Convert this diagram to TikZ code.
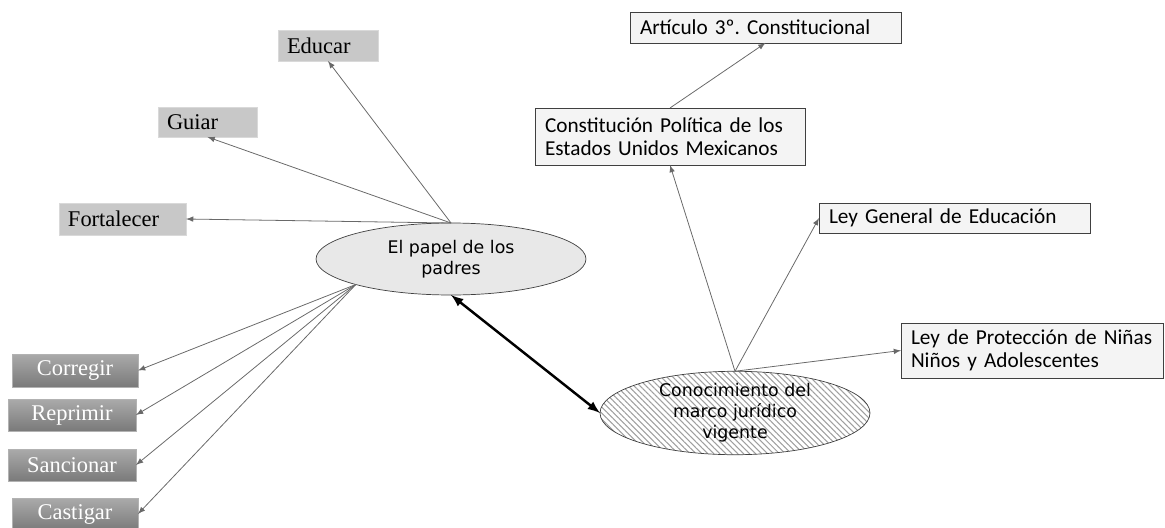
\documentclass[tikz,border=0pt]{standalone}
\usepackage{fontspec}
\newfontfamily\timesfont{Liberation Serif}
\newfontfamily\calfont{Carlito}
\newfontfamily\verdfont{DejaVu Sans}
\usetikzlibrary{arrows,shapes.geometric,shadows,patterns.meta}
\usepackage{xcolor}
\definecolor{lightbox}{RGB}{200,200,200}
\definecolor{darktop}{RGB}{170,170,170}
\definecolor{darkbot}{RGB}{122,122,122}
\definecolor{linegray}{RGB}{105,105,105}

\begin{document}
\begin{tikzpicture}[x=0.02cm, y=-0.02cm]
\useasboundingbox (0,0) rectangle (1165,527);
\tikzstyle{every node} = [anchor=north west, inner ysep=0pt, outer sep=0pt]
\tikzstyle{lbox} = [draw=gray!30, fill=lightbox, inner xsep=0.18cm, align=left, font=\timesfont\fontsize{12.8}{14.5}\selectfont]
\tikzstyle{dbox} = [draw=gray!60, top color=darktop, bottom color=darkbot, text=white, drop shadow={shadow xshift=0.6pt, shadow yshift=-0.8pt, opacity=0.35}, font=\timesfont\fontsize{12.8}{14.5}\selectfont]
\tikzstyle{lawbox} = [draw=black!75, fill=gray!9, inner xsep=0.2cm, align=left, font=\calfont\fontsize{12.1}{13.4}\selectfont]
\tikzstyle{bubble} = [ellipse, draw=black!75, anchor=center, inner sep=0pt, align=center, minimum width=5.4cm, font=\verdfont\fontsize{9.9}{12}\selectfont]
\tikzstyle{link} = [draw=linegray, line width=0.45pt, -latex]
% the two ellipses
\node[bubble, fill=gray!18, minimum height=1.44cm] (papel) at (451,259) {El papel de los\\padres};
\node[bubble, pattern={Lines[angle=-45,distance=2.4pt,line width=0.6pt]}, pattern color=gray!75, minimum height=1.4cm] (marco) at (735,413) {Conocimiento del\\marco jurídico\\vigente};
% light gray boxes
\node[lbox, text width=1.64cm, minimum height=0.62cm] (educar) at (278,30) {Educar};
\node[lbox, text width=1.62cm, minimum height=0.6cm] (guiar) at (158,107) {Guiar};
\node[lbox, text width=2.18cm, minimum height=0.64cm] (fortalecer) at (59,203) {Fortalecer};
% dark gray boxes
\node[dbox, minimum width=2.52cm, minimum height=0.66cm] (corregir) at (12,354) {Corregir};
\node[dbox, minimum width=2.56cm, minimum height=0.64cm] (reprimir) at (8,399) {Reprimir};
\node[dbox, minimum width=2.56cm, minimum height=0.64cm] (sancionar) at (8,449) {Sancionar};
\node[dbox, minimum width=2.52cm, minimum height=0.64cm] (castigar) at (12,498) {Castigar};
% legal framework boxes
\node[lawbox, text width=5.02cm, minimum height=0.62cm] (articulo) at (630,12) {Artículo 3º.\ Constitucional};
\node[lawbox, text width=5.0cm, minimum height=1.14cm] (constitucion) at (535,108) {Constitución Política de los\\Estados Unidos Mexicanos};
\node[lawbox, text width=5.02cm, minimum height=0.6cm] (leygeneral) at (819,203) {Ley General de Educación};
\node[lawbox, text width=4.84cm, minimum height=1.1cm] (leyproteccion) at (901,323) {Ley de Protección de Niñas\\Niños y Adolescentes};
% connectors
\draw[link] (papel.north) -- (educar.south);
\draw[link] (papel.north) -- (guiar.south);
\draw[link] (papel.north) -- (fortalecer.east);
\draw[link] (papel.195) -- (corregir.east);
\draw[link] (papel.195) -- (reprimir.east);
\draw[link] (papel.195) -- (sancionar.east);
\draw[link] (papel.195) -- (castigar.east);
\draw[latex-latex, line width=1.4pt] (papel.south) -- (marco.west);
\draw[link] (marco.north) -- (constitucion.south);
\draw[link] (marco.north) -- (leygeneral.west);
\draw[link] (marco.north) -- (leyproteccion.west);
\draw[link] (constitucion.north) -- (articulo.south);
\end{tikzpicture}
\end{document}
